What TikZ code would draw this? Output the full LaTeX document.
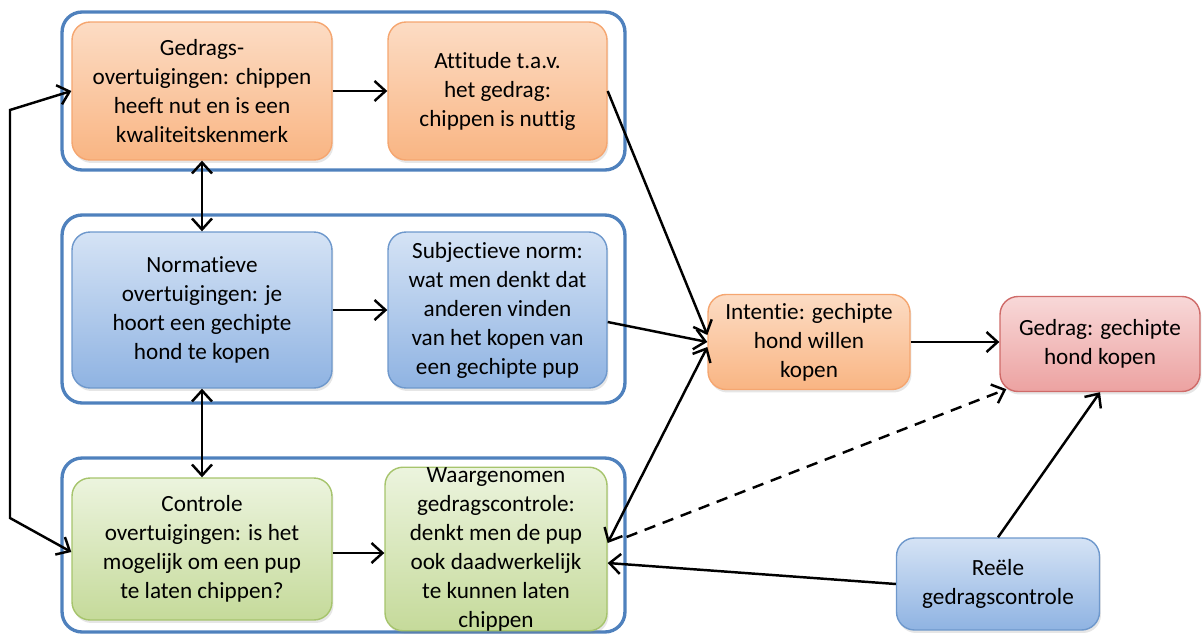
\documentclass[tikz,border=0pt]{standalone}
\usepackage{fontspec}
\setmainfont{Carlito}[Ligatures=NoCommon]
\usetikzlibrary{arrows.meta,shadows}

\definecolor{grpblue}{HTML}{4F81BD}
\definecolor{orangetop}{HTML}{FCDCC4}
\definecolor{orangebot}{HTML}{F9B583}
\definecolor{orangeline}{HTML}{F5A670}
\definecolor{bluetop}{HTML}{D5E3F5}
\definecolor{bluebot}{HTML}{8FB3E2}
\definecolor{blueline}{HTML}{6E98CC}
\definecolor{greentop}{HTML}{ECF4DE}
\definecolor{greenbot}{HTML}{C5DA9A}
\definecolor{greenline}{HTML}{A6C46C}
\definecolor{redtop}{HTML}{F8D8D8}
\definecolor{redbot}{HTML}{ECA2A1}
\definecolor{redline}{HTML}{CF6B69}

\begin{document}
\begin{tikzpicture}[x=0.02cm, y=-0.02cm,
    box/.style={rounded corners=0.36cm, align=center, inner sep=0pt,
      font=\fontsize{13.2}{16.5}\selectfont, line width=0.8pt,
      drop shadow={opacity=0.2, shadow xshift=0.03cm, shadow yshift=-0.06cm}},
    orangebox/.style={box, draw=orangeline, top color=orangetop, bottom color=orangebot},
    bluebox/.style={box, draw=blueline, top color=bluetop, bottom color=bluebot},
    greenbox/.style={box, draw=greenline, top color=greentop, bottom color=greenbot},
    redbox/.style={box, draw=redline, top color=redtop, bottom color=redbot},
    group/.style={draw=grpblue, line width=1.9pt, rounded corners=0.4cm, inner sep=0pt},
    conn/.style={line width=1.4pt},
    >={Straight Barb[length=2.2mm,width=4mm]}]

        \useasboundingbox (0,0) rectangle (1203,635);

        %Group boxes
        \node [group, minimum width=11.26cm, minimum height=3.16cm] (grp1) at (343.5,91) {};
        \node [group, minimum width=11.26cm, minimum height=3.76cm] (grp2) at (343.5,309) {};
        \node [group, minimum width=11.26cm, minimum height=3.48cm] (grp3) at (343.5,545) {};

        %Beliefs
        \node [orangebox, minimum width=5.2cm, minimum height=2.76cm] (gb) at (202,91)
          {Gedrags-\\overtuigingen: chippen\\heeft nut en is een\\kwaliteitskenmerk};
        \node [bluebox, minimum width=5.2cm, minimum height=3.12cm] (nb) at (202,310)
          {Normatieve\\overtuigingen: je\\hoort een gechipte\\hond te kopen};
        \node [greenbox, minimum width=5.2cm, minimum height=2.84cm] (cb) at (202,549)
          {Controle\\overtuigingen: is het\\mogelijk om een pup\\te laten chippen?};

        %Attitude, norm, control
        \node [orangebox, minimum width=4.38cm, minimum height=2.76cm] (att) at (497.5,91)
          {Attitude t.a.v.\\het gedrag:\\chippen is nuttig};
        \node [bluebox, minimum width=4.38cm, minimum height=3.12cm] (sn) at (497.5,310)
          {Subjectieve norm:\\wat men denkt dat\\anderen vinden\\van het kopen van\\een gechipte pup};
        \node [greenbox, minimum width=4.44cm, minimum height=2.84cm] (wg) at (496,549)
          {Waargenomen\\gedragscontrole:\\denkt men de pup\\ook daadwerkelijk\\te kunnen laten\\chippen};

        %Intention, behaviour
        \node [orangebox, minimum width=4.04cm, minimum height=1.9cm] (int) at (809,342)
          {Intentie: gechipte\\hond willen\\kopen};
        \node [redbox, minimum width=4.0cm, minimum height=1.9cm] (gd) at (1100,344)
          {Gedrag: gechipte\\hond kopen};
        \node [bluebox, minimum width=4.06cm, minimum height=1.84cm] (re) at (998,584)
          {Reële\\gedragscontrole};

        %Arrows inside the groups
        \draw [conn, ->] (gb) -- (att);
        \draw [conn, ->] (nb) -- (sn);
        \draw [conn, ->] ([yshift=-0.08cm]cb.east) -- ([yshift=-0.08cm]wg.west);
        \draw [conn, <->] (gb.south) -- (nb.north);
        \draw [conn, <->] (nb.south) -- (cb.north);

        %Loop on the left
        \coordinate (looptop) at (10,110);
        \coordinate (loopbot) at (10,518);
        \draw [conn, <->] (gb.west) -- (looptop) -- (loopbot) -- ([yshift=-0.06cm]cb.west);

        %Arrows to intention and behaviour
        \draw [conn, ->] (att.east) -- ([yshift=0.14cm]int.west);
        \draw [conn, ->] ([yshift=-0.24cm]sn.east) -- (int.west);
        \draw [conn, <->] ([yshift=0.12cm]wg.east) -- ([yshift=-0.1cm]int.west);
        \draw [conn, ->] (int.east) -- (int.east -| gd.west);
        \draw [conn, ->, dash pattern=on 6.5pt off 4.5pt] ([yshift=0.16cm]grp3.east) -- ([xshift=0.14cm,yshift=0.06cm]gd.south west);
        \draw [conn, ->] (re.north) -- (gd.south);
        \draw [conn, ->] (re.west) -- ([yshift=-0.28cm]wg.east);

\end{tikzpicture}
\end{document}
